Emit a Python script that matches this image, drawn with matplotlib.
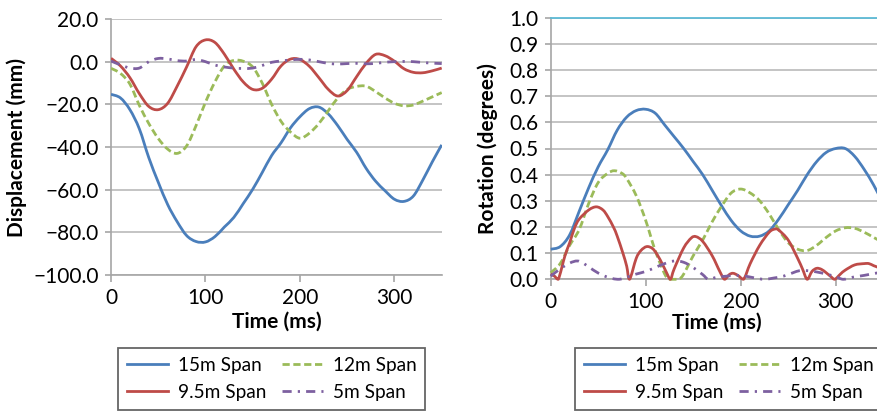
import matplotlib
matplotlib.use("Agg")
import matplotlib.pyplot as plt
from matplotlib.path import Path
from matplotlib.patches import PathPatch
from matplotlib.lines import Line2D
from matplotlib.ticker import MultipleLocator, FuncFormatter

plt.rcParams['font.family'] = ['Lato', 'DejaVu Sans']
plt.rcParams['axes.unicode_minus'] = True

# ---------------- mid-span displacement (mm) ----------------
disp_t = [0, 10, 20, 30, 40, 50, 60, 70, 80, 90, 100, 110, 120, 130, 140, 150, 160, 170,
          180, 190, 200, 210, 220, 230, 240, 250, 260, 270, 280, 290, 300, 310, 320, 330,
          340, 350]
disp_15m = [-15.3, -17, -22.5, -31.5, -45, -56.5, -67, -75, -81.5, -84.3, -84.5, -82,
            -77.5, -73, -66.5, -59.8, -52, -44, -38, -31, -25.8, -22, -21.3, -24.5, -30,
            -36.5, -42.5, -50, -56, -60.5, -64.5, -65.5, -63, -55.5, -47, -39]
disp_12m = [-3.1, -5.5, -10.5, -20.5, -29, -36, -41, -43, -39.5, -30, -19, -9.5, -2, 0.6,
            0.2, -2.5, -10, -20, -28, -33, -35.9, -33.5, -29, -23, -17, -13, -11.6, -11.5,
            -14, -17, -19.5, -20.7, -20.3, -18.5, -16.5, -14.5]
disp_9m5 = [1.6, -2, -7.5, -15, -21, -22.5, -19.5, -11.5, -2.5, 7, 10.2, 9, 3.5, -3.5,
            -9.5, -13, -12.5, -8.2, -2, 1.2, 1, -2.2, -7.5, -13, -16.1, -13.5, -7, -0.8,
            3.4, 2.8, 0.2, -3.3, -5, -5.2, -4.3, -3]
disp_5m = [0.3, -1.5, -3, -3, 0, 1.5, 1.3, 0.5, 0.3, 1.0, 0, -1.6, -2.5, -3, -3.2, -3,
           -1.8, -0.3, 0.3, 0.8, 1.1, 0.8, 0, -0.8, -1.1, -0.9, -0.8, -1.0, -0.8, -0.3, 0,
           0.1, 0, -0.4, -0.7, -0.9]

# ---------------- support rotation (degrees) ----------------
rot_t = [0, 10, 20, 30, 40, 50, 60, 70, 80, 90, 100, 110, 120, 130, 140, 150, 160, 170,
         180, 190, 200, 210, 220, 230, 240, 250, 260, 270, 280, 290, 300, 310, 320, 330,
         340, 350]
rot_15m = [0.115, 0.125, 0.17, 0.26, 0.35, 0.43, 0.495, 0.57, 0.62, 0.645, 0.65, 0.635,
           0.59, 0.545, 0.5, 0.45, 0.4, 0.34, 0.28, 0.225, 0.185, 0.165, 0.165, 0.185,
           0.23, 0.285, 0.34, 0.4, 0.45, 0.485, 0.5, 0.5, 0.47, 0.42, 0.36, 0.29]

rot12_t = [0, 10, 20, 30, 40, 50, 60, 67, 75, 80, 90, 100, 110, 120, 125, 130, 135, 140,
           150, 160, 170, 180, 190, 200, 210, 220, 230, 240, 250, 260, 270, 280, 290, 300,
           310, 320, 330, 340, 350]
rot_12m = [0.025, 0.06, 0.13, 0.19, 0.29, 0.37, 0.405, 0.415, 0.405, 0.385, 0.32, 0.225,
           0.11, 0.02, 0.0, 0.0, 0.0, 0.02, 0.09, 0.15, 0.22, 0.28, 0.33, 0.345, 0.33, 0.3,
           0.25, 0.19, 0.14, 0.115, 0.11, 0.13, 0.16, 0.185, 0.197, 0.195, 0.18, 0.16, 0.14]

rot9_t = [0, 4, 8, 15, 20, 25, 30, 40, 48, 55, 60, 66, 70, 76, 80, 83, 90, 95, 101, 107,
          112, 118, 122, 126, 130, 140, 148, 153, 160, 170, 178, 183, 188, 192, 197, 203,
          210, 220, 230, 236, 240, 250, 260, 265, 270, 275, 280, 285, 290, 295, 299, 305,
          310, 320, 330, 335, 340, 345, 350]
rot_9m5 = [0.02, 0.012, 0.0, 0.09, 0.14, 0.195, 0.23, 0.265, 0.277, 0.265, 0.24, 0.2,
           0.165, 0.1, 0.05, 0.0, 0.08, 0.11, 0.125, 0.118, 0.095, 0.055, 0.025, 0.0, 0.04,
           0.12, 0.158, 0.163, 0.145, 0.09, 0.03, 0.0, 0.018, 0.023, 0.015, 0.0, 0.06,
           0.13, 0.18, 0.192, 0.188, 0.15, 0.08, 0.04, 0.0, 0.03, 0.042, 0.038, 0.025, 0.01,
           0.0, 0.02, 0.035, 0.055, 0.06, 0.06, 0.052, 0.045, 0.035]

rot5_t = [0, 10, 20, 28, 35, 45, 55, 65, 72, 80, 90, 100, 110, 120, 130, 140, 150, 160,
          166, 175, 185, 195, 205, 215, 225, 235, 245, 255, 262, 270, 280, 290, 300, 308,
          318, 330, 340, 350]
rot_5m = [0.012, 0.04, 0.062, 0.07, 0.06, 0.035, 0.015, 0.003, 0.0, 0.008, 0.02, 0.03,
          0.045, 0.06, 0.07, 0.065, 0.045, 0.018, 0.0, 0.008, 0.012, 0.015, 0.012, 0.005,
          0.0, 0.005, 0.012, 0.025, 0.033, 0.033, 0.028, 0.02, 0.01, 0.0, 0.008, 0.015,
          0.022, 0.028]

labels = ['15m Span', '12m Span', '9.5m Span', '5m Span']
colors = ['#4A7EBB', '#9BBB59', '#BE4B48', '#7D60A0']
styles = ['-', (0, (2.6, 1.3)), '-', (0, (3.3, 2.2, 0.8, 2.2))]

GRID = '#BFBFBF'
SPINE = '#A6A6A6'
LW = 2.0
TICK_FS = 15
LABEL_FS = 15
LEGEND_FS = 13.7

fig = plt.figure(figsize=(8.77, 4.12), dpi=100)
W, H = 877.0, 412.0


def px_axes(x0, x1, ytop, ybot):
    return fig.add_axes([x0 / W, 1 - ybot / H, (x1 - x0) / W, (ybot - ytop) / H])


def smooth_path(xs, ys, floor=None):
    """Smoothed polyline through the points (Catmull-Rom drawn as cubic Beziers)."""
    n = len(xs)
    verts = [(xs[0], ys[0])]
    codes = [Path.MOVETO]
    for i in range(n - 1):
        i0, i2, i3 = max(i - 1, 0), i + 1, min(i + 2, n - 1)
        c1x = xs[i] + (xs[i2] - xs[i0]) / 6.0
        c1y = ys[i] + (ys[i2] - ys[i0]) / 6.0
        c2x = xs[i2] - (xs[i3] - xs[i]) / 6.0
        c2y = ys[i2] - (ys[i3] - ys[i]) / 6.0
        if floor is not None:
            c1y, c2y = max(c1y, floor), max(c2y, floor)
        verts += [(c1x, c1y), (c2x, c2y), (xs[i2], ys[i2])]
        codes += [Path.CURVE4, Path.CURVE4, Path.CURVE4]
    return Path(verts, codes)


def draw_series(ax, xs, ys, color, ls, floor=None, clip=True):
    patch = PathPatch(smooth_path(xs, ys, floor), fill=False, edgecolor=color,
                      linestyle=ls, linewidth=LW, capstyle='butt', joinstyle='round',
                      transform=ax.transData, clip_on=clip, zorder=3)
    ax.add_patch(patch)
    return Line2D([], [], color=color, linestyle=ls, linewidth=LW)


def style_axes(ax):
    for s in ['top', 'right']:
        ax.spines[s].set_visible(False)
    for s in ['left', 'bottom']:
        ax.spines[s].set_color(SPINE)
        ax.spines[s].set_linewidth(1.2)
    ax.grid(axis='y', color=GRID, linewidth=1.3)
    ax.set_axisbelow(True)
    ax.tick_params(axis='both', direction='out', color=SPINE, width=1.2,
                   labelsize=TICK_FS, labelcolor='black')
    ax.tick_params(axis='x', length=5, pad=4)
    ax.tick_params(axis='y', length=4, pad=5)
    ax.xaxis.set_major_locator(MultipleLocator(100))


def add_legend(hs, x_left):
    order = [0, 2, 1, 3]
    leg = fig.legend([hs[i] for i in order], [labels[i] for i in order], ncol=2,
                     loc='upper left', bbox_to_anchor=(x_left / W, 1 - 348 / H),
                     fontsize=LEGEND_FS, frameon=True, fancybox=False, handlelength=2.2,
                     handletextpad=0.5, columnspacing=0.8, labelspacing=0.55,
                     borderpad=0.45, borderaxespad=0)
    fr = leg.get_frame()
    fr.set_edgecolor('#404040')
    fr.set_linewidth(1.3)
    return leg


# ---- left: displacement ----
ax1 = px_axes(111, 441.7, 19, 275)
style_axes(ax1)
h1 = [draw_series(ax1, disp_t, y, c, ls)
      for y, c, ls in zip([disp_15m, disp_12m, disp_9m5, disp_5m], colors, styles)]
ax1.set_xlim(0, 350)
ax1.set_ylim(-100, 20)
ax1.yaxis.set_major_locator(MultipleLocator(20))
ax1.yaxis.set_major_formatter(FuncFormatter(lambda v, p: f"{v:.1f}".replace('-', '\u2212')))
ax1.set_xlabel('Time (ms)', fontsize=LABEL_FS, fontweight='bold')
ax1.set_ylabel('Displacement (mm)', fontsize=LABEL_FS, fontweight='bold')
ax1.xaxis.set_label_coords(0.5, -0.145)
ax1.yaxis.set_label_coords(-0.254, 0.5)
add_legend(h1, 118)

# ---- right: rotation ----
ax2 = px_axes(550.7, 883.2, 17.7, 279.3)
style_axes(ax2)
ax2.spines['top'].set_visible(True)
ax2.spines['top'].set_color('#5DBAD5')
ax2.spines['top'].set_linewidth(1.3)
h2 = [draw_series(ax2, x, y, c, ls, floor=0.0, clip=False)
      for x, y, c, ls in zip([rot_t, rot12_t, rot9_t, rot5_t],
                             [rot_15m, rot_12m, rot_9m5, rot_5m], colors, styles)]
ax2.set_xlim(0, 350)
ax2.set_ylim(0, 1.0)
ax2.yaxis.set_major_locator(MultipleLocator(0.1))
ax2.yaxis.set_major_formatter(FuncFormatter(lambda v, p: f"{v:.1f}"))
ax2.set_xlabel('Time (ms)', fontsize=LABEL_FS, fontweight='bold')
ax2.set_ylabel('Rotation (degrees)', fontsize=LABEL_FS, fontweight='bold')
ax2.xaxis.set_label_coords(0.5, -0.129)
ax2.yaxis.set_label_coords(-0.158, 0.5)
add_legend(h2, 575)

fig.savefig('out.png', dpi=100)
